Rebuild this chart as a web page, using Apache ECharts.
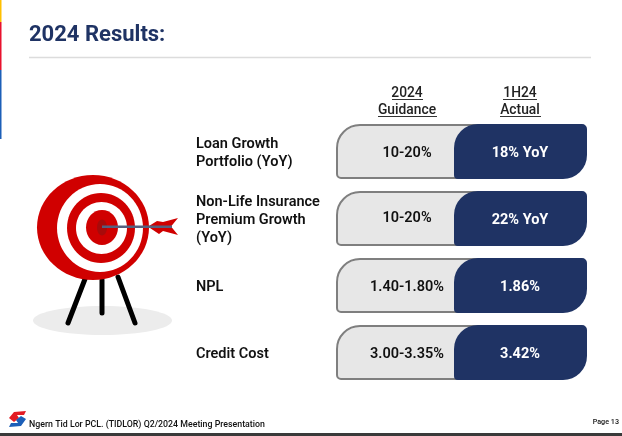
<!DOCTYPE html>
<html>
<head>
<meta charset="utf-8">
<style>
html, body { margin: 0; padding: 0; background: #fff; }
#main { width: 622px; height: 436px; }
</style>
<script src="https://cdn.jsdelivr.net/npm/echarts@6/dist/echarts.min.js"></script>
</head>
<body>
<div id="main"></div>
<script>
// table rows
const categories = ["Loan Growth\nPortfolio (YoY)", "Non-Life Insurance\nPremium Growth\n(YoY)", "NPL", "Credit Cost"];
const guidance = ["10-20%", "10-20%", "1.40-1.80%", "3.00-3.35%"];
const actual = ["18% YoY", "22% YoY", "1.86%", "3.42%"];
const headers = ["2024\nGuidance", "1H24\nActual"];

const navy = "#1f3364";
const font = "Roboto, sans-serif";

function text(x, y, str, size, fill, align, weight) {
    return {
        type: "text",
        style: {
            x: x, y: y, text: str, fill: fill,
            fontFamily: font, fontSize: size, fontWeight: weight || 500,
            align: align || "left", verticalAlign: "middle", lineHeight: size + 3.5
        }
    };
}
function line(x1, y1, x2, y2, color, width, cap) {
    return {
        type: "line",
        shape: { x1: x1, y1: y1, x2: x2, y2: y2 },
        style: { stroke: color, lineWidth: width, lineCap: cap || "butt" }
    };
}
function box(x, y, w, h, color) {
    return { type: "rect", shape: { x: x, y: y, width: w, height: h }, style: { fill: color } };
}
function oval(cx, cy, rx, ry, color) {
    return { type: "ellipse", shape: { cx: cx, cy: cy, rx: rx, ry: ry }, style: { fill: color } };
}

// 每一行：左边灰色 + 右边深蓝
function renderRow(params, api) {
    const i = api.value(0);
    const cs = params.coordSys;
    const cy = api.coord([0, i])[1];
    const h = 54;
    const top = cy - h / 2;
    const left = cs.x;
    const split = cs.x + 118;
    // 第二行的左侧文字在原图里偏上一点
    const lift = i === 1 ? 2 : 0;
    return {
        type: "group",
        children: [
            {
                type: "rect",
                shape: { x: left + 1, y: top + 1, width: 140, height: h - 1, r: [23, 0, 0, 4] },
                style: { fill: "#e7e7e7", stroke: "#7f7f7f", lineWidth: 2 }
            },
            {
                type: "rect",
                shape: { x: split, y: top, width: cs.width - 118, height: h + 1, r: [24, 5, 24, 4] },
                style: { fill: navy }
            },
            text(196, cy + 2.5, categories[i], 14.5, "#111", "left", 600),
            text(left + 71, cy + 2 - lift, guidance[i], 14.5, "#111", "center", 600),
            text(split + 66, cy + 2, actual[i], 14.5, "#fff", "center", 700)
        ]
    };
}

const decorations = [
    // side stripe
    box(0, 0, 1.5, 22, "#ffc000"),
    box(0, 22, 1.5, 48, "#e8112d"),
    box(0, 70, 1.5, 69, "#1c5fb8"),
    // title
    text(29, 35, "2024 Results:", 22, navy, "left", 700),
    line(29, 57.5, 591, 57.5, "#dcdcdc", 1.5),
    // column heads
    text(407, 102, headers[0], 13.8, "#222", "center"),
    line(392, 99.5, 423, 99.5, "#333", 1),
    line(378, 116.5, 437, 116.5, "#333", 1),
    text(520, 102, headers[1], 13.8, "#222", "center"),
    line(503, 99.5, 537, 99.5, "#333", 1),
    line(500, 116.5, 541, 116.5, "#333", 1),
    // target
    oval(102.5, 320.5, 69.5, 14.5, "#ececec"),
    line(85, 279, 68, 323, "#000", 5, "round"),
    line(102, 280, 102, 313, "#000", 5, "round"),
    line(118, 277, 135, 323, "#000", 5, "round"),
    oval(93, 227.5, 56, 52.5, "#d00000"),
    oval(100, 228, 43, 44, "#fff"),
    oval(101, 228, 34, 35, "#d00000"),
    oval(101.5, 228, 25.5, 26, "#fff"),
    oval(102, 227.5, 16, 17.5, "#d00000"),
    oval(102, 227.5, 5, 8, "#a80a0a"),
    {
        type: "polygon",
        shape: { points: [[149, 226], [157, 221], [163, 222], [178, 218], [171, 226.5], [178, 235], [163, 231], [159, 234], [150, 228]] },
        style: { fill: "#d00000" }
    },
    line(102, 226.7, 172, 226.7, "#55607f", 2.5),
    // footer logo
    {
        type: "polygon",
        shape: { points: [[9, 418], [14, 412], [26, 411], [24, 415], [17, 415], [19, 418], [14, 422]] },
        style: { fill: "#e31b23" }
    },
    {
        type: "polygon",
        shape: { points: [[26, 419], [21, 426], [9, 427], [11, 423], [18, 423], [16, 420], [21, 416]] },
        style: { fill: "#1c5fb8" }
    },
    text(29, 424.5, "Ngern Tid Lor PCL. (TIDLOR) Q2/2024 Meeting Presentation", 8.8, "#111"),
    text(619, 422, "Page 13", 7.2, "#111", "right"),
    box(0, 433, 622, 3, "#3a3a3a")
];

const chart = echarts.init(document.getElementById("main"), null, { renderer: "canvas" });
chart.setOption({
    animation: false,
    grid: { left: 336, right: 35, top: 117.5, height: 268 },
    xAxis: { type: "value", min: 0, max: 1, show: false },
    yAxis: { type: "category", inverse: true, show: false, data: categories },
    graphic: { elements: decorations },
    series: [{
        type: "custom",
        renderItem: renderRow,
        encode: { y: 0 },
        data: categories.map((c, i) => [i]),
        silent: true
    }]
});
</script>
</body>
</html>
